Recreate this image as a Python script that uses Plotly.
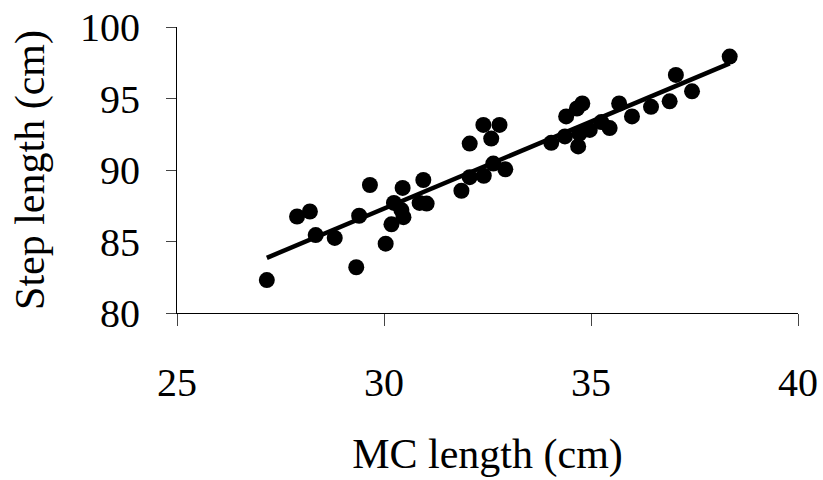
import numpy as np
import plotly.graph_objects as go

# MC length (cm) and step length (cm) for each subject
mc_length = [
    27.17, 27.90, 28.21, 28.35, 28.81, 29.33, 29.40, 29.66, 30.04, 30.18,
    30.24, 30.45, 30.47, 30.42, 30.86, 31.03, 30.95, 31.87, 32.07, 32.41,
    32.64, 32.93, 32.07, 32.40, 32.79, 32.59, 34.04, 34.37, 34.69, 34.72,
    34.97, 35.25, 35.45, 34.40, 34.66, 34.79, 35.68, 35.99, 36.45, 36.90,
    37.05, 37.44, 38.35,
]
step_length = [
    82.30, 86.75, 87.10, 85.45, 85.25, 83.20, 86.80, 88.95, 84.85, 86.20,
    87.70, 88.75, 86.70, 87.20, 87.70, 87.65, 89.30, 88.55, 89.50, 89.60,
    90.45, 90.05, 91.85, 93.15, 93.15, 92.20, 91.90, 92.35, 91.65, 92.55,
    92.80, 93.35, 92.93, 93.75, 94.30, 94.65, 94.65, 93.75, 94.42, 94.80,
    96.65, 95.50, 97.93,
]

x_ticks = [25, 30, 35, 40]
y_ticks = [80, 85, 90, 95, 100]

# least-squares trend line over the observed range
slope, intercept = np.polyfit(mc_length, step_length, 1)
fit_x = np.array([min(mc_length), max(mc_length)])
fit_y = slope * fit_x + intercept

font = "Liberation Serif, Times New Roman, serif"

fig = go.Figure()
fig.add_trace(go.Scatter(
    x=fit_x, y=fit_y, mode="lines",
    line=dict(color="black", width=4.5),
    hoverinfo="skip", showlegend=False,
))
fig.add_trace(go.Scatter(
    x=mc_length, y=step_length, mode="markers",
    marker=dict(color="black", size=16, line=dict(width=0)),
    showlegend=False,
))

fig.update_layout(
    width=823, height=480,
    margin=dict(l=177, r=25, t=27, b=167),
    paper_bgcolor="white", plot_bgcolor="white",
    font=dict(family=font, size=40, color="black"),
)
fig.update_xaxes(
    range=[25, 40], tickvals=x_ticks, ticktext=[str(v) for v in x_ticks],
    showline=True, linecolor="black", linewidth=1.2,
    ticks="outside", ticklen=12, tickcolor="#444", tickwidth=1.2,
    showgrid=False, zeroline=False, ticklabelstandoff=22, automargin=False,
    title=dict(text="MC length (cm)", standoff=34, font=dict(size=42)),
    tickfont=dict(size=40),
)
fig.update_yaxes(
    range=[80, 100], tickvals=y_ticks, ticktext=[str(v) for v in y_ticks],
    showline=True, linecolor="black", linewidth=1.2,
    ticks="outside", ticklen=10, tickcolor="#444", tickwidth=1.2,
    showgrid=False, zeroline=False, ticklabelstandoff=18, automargin=False,
    title=dict(text="Step length (cm)", standoff=22, font=dict(size=42)),
    tickfont=dict(size=40),
)

fig.write_html("out.html")
